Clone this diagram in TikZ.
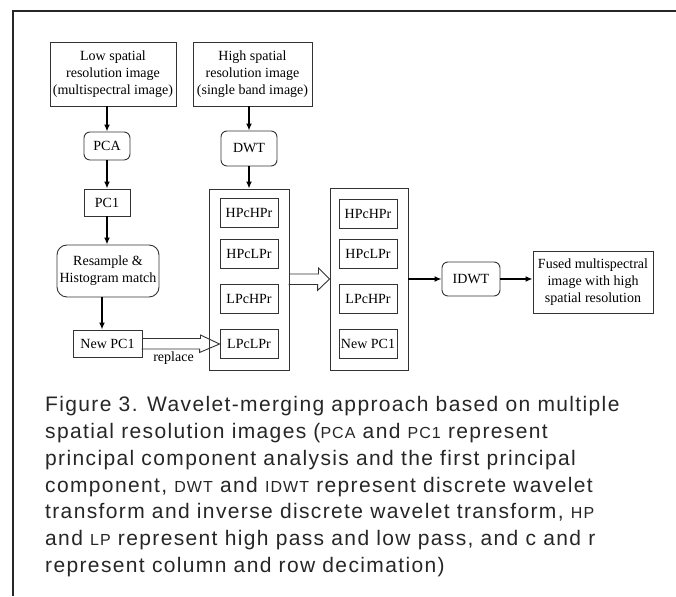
\documentclass[tikz,border=0pt]{standalone}
\usepackage{fontspec}
\setmainfont{Liberation Serif}
\newfontfamily\capfont[LetterSpace=6.5]{Liberation Sans}
\usepackage{tikz}
\usetikzlibrary{arrows, arrows.meta, positioning}
\tikzstyle{box}=[rectangle, draw=black!80, line width=0.9pt, inner sep=0pt, align=center, font=\fontsize{14}{17}\selectfont]
\tikzstyle{rbox}=[box, rounded corners=6pt]
\tikzstyle{band}=[box, minimum width=58pt, minimum height=29pt]
\tikzstyle{group}=[rectangle, draw=black!80, line width=0.9pt, minimum width=80pt, minimum height=181pt]
\tikzstyle{flow}=[->, >={Latex[length=7pt,width=6pt]}, line width=1.6pt]
\tikzstyle{hollow}=[draw=black!80, line width=0.9pt, line join=miter]
\tikzstyle{caption}=[anchor=base west, inner sep=0pt, text=black!85, font=\capfont\fontsize{21}{21}\selectfont]
\newcommand\smc[1]{{\fontsize{16}{16}\selectfont #1}}

\begin{document}
\begin{tikzpicture}[x=1pt, y=1pt]
  \useasboundingbox (0,0) rectangle (676,596);
  \draw[line width=1.8pt, black!85] (676,585) -- (13,585) -- (13,0);

  % left branch
  \node[box, minimum width=126pt, minimum height=64pt] (low) at (113,522)
        {Low spatial\\resolution image\\(multispectral image)};
  \node[rbox, minimum width=46pt, minimum height=28pt] (pca) [below of=low, node distance=72, xshift=-6] {PCA};
  \node[box, minimum width=46pt, minimum height=27pt] (pc) [below of=pca, node distance=56.5] {PC1};
  \node[rbox, rounded corners=10pt, minimum width=102pt, minimum height=52pt] (resample)
        [below of=pc, node distance=68.5, xshift=1] {Resample \&\\Histogram match};
  \node[box, minimum width=69pt, minimum height=27pt] (newpc) [below of=resample, node distance=72.5, xshift=-0.5] {New PC1};

  % right branch
  \node[box, minimum width=119pt, minimum height=64pt] (high) [right of=low, node distance=139.5]
        {High spatial\\resolution image\\(single band image)};
  \node[rbox, minimum width=56pt, minimum height=35pt] (dwt) [below of=high, node distance=74.5, xshift=-3.5] {DWT};

  \node[group] (grpA) at (249,316.5) {};
  \foreach \t/\y [count=\i] in {HPcHPr/383, HPcLPr/342.5, LPcHPr/297.5, LPcLPr/252}
    \node[band] (a\i) at (249,\y) {\t};

  \node[group, minimum width=78pt, minimum height=182pt] (grpB) [right of=grpA, node distance=120, yshift=0.5] {};
  \foreach \t/\y [count=\i] in {HPcHPr/382.5, HPcLPr/342.5, LPcHPr/297.5, New PC1/252.5}
    \node[band] (b\i) at (368,\y) {\t};

  \node[rbox, minimum width=58pt, minimum height=34pt] (idwt) [right of=grpB, node distance=102] {IDWT};
  \node[box, minimum width=120pt, minimum height=62pt] (fused) [right of=idwt, node distance=122, yshift=-3]
        {Fused multispectral\\image with high\\spatial resolution};

  % connectors
  \draw[flow] (pca.north |- low.south) -- (pca.north);
  \draw[flow] (pca.south) -- (pc.north);
  \draw[flow] (pc.south) -- (pc.south |- resample.north);
  \coordinate (rs) at ([xshift=-6pt]resample.south);
  \draw[flow] (rs) -- (rs |- newpc.north);
  \draw[flow] (dwt.north |- high.south) -- (dwt.north);
  \draw[flow] (dwt.south) -- (grpA.north);
  \draw[flow] (grpB.east) -- (idwt.west);
  \draw[flow] (idwt.east) -- (idwt.east -| fused.west);

  % hollow arrows
  \draw[hollow] (newpc.east) ++(0,5) -- ++(58,0) -- ++(0,3.5) -- (a4.west) -- ++(-20,-8.5) -- ++(0,3.5) -- ++(-58,0);
  \node[font=\fontsize{14}{14}\selectfont] (repl) at (173.5,238) {replace};
  \draw[hollow] (grpA.east) ++(0,5.5) -- ++(29,0) -- ++(0,6) -- (grpB.west) -- ++(-12,-11.5) -- ++(0,6) -- ++(-29,0);

  % caption
  \foreach \ln [count=\i] in {
      {Figure 3. Wavelet-merging approach based on multiple},
      {spatial resolution images (\smc{PCA} and \smc{PC1} represent},
      {principal component analysis and the first principal},
      {component, \smc{DWT} and \smc{IDWT} represent discrete wavelet},
      {transform and inverse discrete wavelet transform, \smc{HP}},
      {and \smc{LP} represent high pass and low pass, and c and r},
      {represent column and row decimation)}}
    \node[caption] (cap\i) at (45,184-26.7*\i+26.7) {\ln};
\end{tikzpicture}
\end{document}
